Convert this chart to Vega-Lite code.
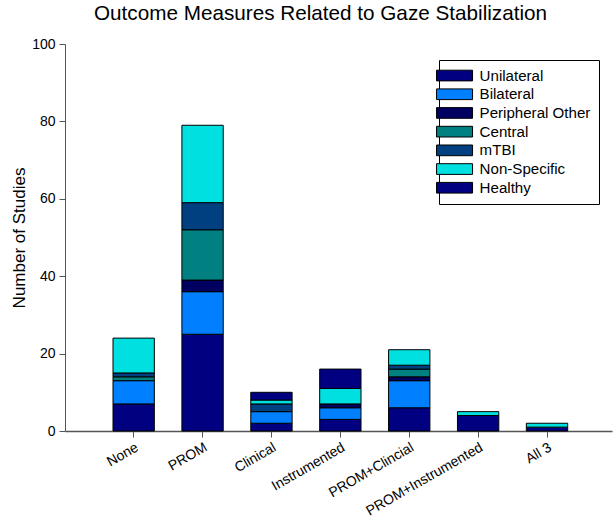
{
  "$schema": "https://vega.github.io/schema/vega-lite/v6.json",
  "autosize": {"type": "none"},
  "width": 547,
  "height": 387,
  "padding": {"left": 65, "top": 44, "right": 4, "bottom": 92},
  "background": "white",
  "title": {"text": "Outcome Measures Related to Gaze Stabilization", "font": "Liberation Sans", "fontSize": 20.7, "fontWeight": "normal", "color": "black", "anchor": "middle", "dx": -18, "offset": 12},
  "config": {"view": {"stroke": null}, "font": "Liberation Sans"},
  "data": {"values": [
    {"m": "None", "g": "Unilateral", "n": 7},
    {"m": "None", "g": "Bilateral", "n": 6},
    {"m": "None", "g": "Central", "n": 1},
    {"m": "None", "g": "mTBI", "n": 1},
    {"m": "None", "g": "Non-Specific", "n": 9},
    {"m": "PROM", "g": "Unilateral", "n": 25},
    {"m": "PROM", "g": "Bilateral", "n": 11},
    {"m": "PROM", "g": "Peripheral Other", "n": 3},
    {"m": "PROM", "g": "Central", "n": 13},
    {"m": "PROM", "g": "mTBI", "n": 7},
    {"m": "PROM", "g": "Non-Specific", "n": 20},
    {"m": "Clinical", "g": "Unilateral", "n": 2},
    {"m": "Clinical", "g": "Bilateral", "n": 3},
    {"m": "Clinical", "g": "mTBI", "n": 2},
    {"m": "Clinical", "g": "Non-Specific", "n": 1},
    {"m": "Clinical", "g": "Healthy", "n": 2},
    {"m": "Instrumented", "g": "Unilateral", "n": 3},
    {"m": "Instrumented", "g": "Bilateral", "n": 3},
    {"m": "Instrumented", "g": "Peripheral Other", "n": 1},
    {"m": "Instrumented", "g": "Non-Specific", "n": 4},
    {"m": "Instrumented", "g": "Healthy", "n": 5},
    {"m": "PROM+Clincial", "g": "Unilateral", "n": 6},
    {"m": "PROM+Clincial", "g": "Bilateral", "n": 7},
    {"m": "PROM+Clincial", "g": "Peripheral Other", "n": 1},
    {"m": "PROM+Clincial", "g": "Central", "n": 2},
    {"m": "PROM+Clincial", "g": "mTBI", "n": 1},
    {"m": "PROM+Clincial", "g": "Non-Specific", "n": 4},
    {"m": "PROM+Instrumented", "g": "Unilateral", "n": 4},
    {"m": "PROM+Instrumented", "g": "Non-Specific", "n": 1},
    {"m": "All 3", "g": "Unilateral", "n": 1},
    {"m": "All 3", "g": "Non-Specific", "n": 1}
  ]},
  "mark": {"type": "bar", "stroke": "black", "strokeWidth": 1},
  "encoding": {
    "x": {
      "field": "m", "type": "nominal",
      "sort": ["None", "PROM", "Clinical", "Instrumented", "PROM+Clincial", "PROM+Instrumented", "All 3"],
      "scale": {"paddingInner": 0.4, "paddingOuter": 0.67, "align": 0.52},
      "axis": {"title": null, "labelAngle": -30, "labelAlign": "right", "labelBaseline": "top", "labelFontSize": 14, "labelColor": "black", "labelFont": "Liberation Sans", "domainColor": "#555555", "tickColor": "#555555", "tickSize": 6, "labelPadding": 3, "domainWidth": 1.5, "grid": false}
    },
    "y": {
      "field": "n", "type": "quantitative", "aggregate": "sum", "stack": "zero",
      "scale": {"domain": [0, 100], "nice": false},
      "axis": {"title": "Number of Studies", "titleFontSize": 17, "titleFontWeight": "normal", "titleColor": "black", "titleFont": "Liberation Sans", "titlePadding": 3, "values": [0, 20, 40, 60, 80, 100], "labelFontSize": 14, "labelColor": "black", "labelFont": "Liberation Sans", "domainColor": "#555555", "tickColor": "#555555", "tickSize": 6, "labelPadding": 4, "grid": false}
    },
    "color": {
      "field": "g", "type": "nominal",
      "sort": ["Unilateral", "Bilateral", "Peripheral Other", "Central", "mTBI", "Non-Specific", "Healthy"],
      "scale": {"range": ["#000080", "#0080FF", "#000060", "#008080", "#004080", "#00E0E0", "#000080"]},
      "legend": {
        "title": null, "orient": "none", "legendX": 374, "legendY": 16,
        "symbolType": "M-3.6,-1.07H3.6V1.07H-3.6Z", "symbolSize": 100, "symbolStrokeColor": "black", "symbolStrokeWidth": 1, "symbolOpacity": 1,
        "labelFontSize": 15.1, "labelFont": "Liberation Sans", "labelColor": "black", "labelOffset": 17.5,
        "rowPadding": 2.7, "padding": 8, "strokeColor": "black", "fillColor": "white"
      }
    },
    "order": {"field": "g_order", "type": "quantitative"}
  },
  "transform": [
    {"calculate": "indexof(['Unilateral','Bilateral','Peripheral Other','Central','mTBI','Non-Specific','Healthy'], datum.g)", "as": "g_order"}
  ]
}
